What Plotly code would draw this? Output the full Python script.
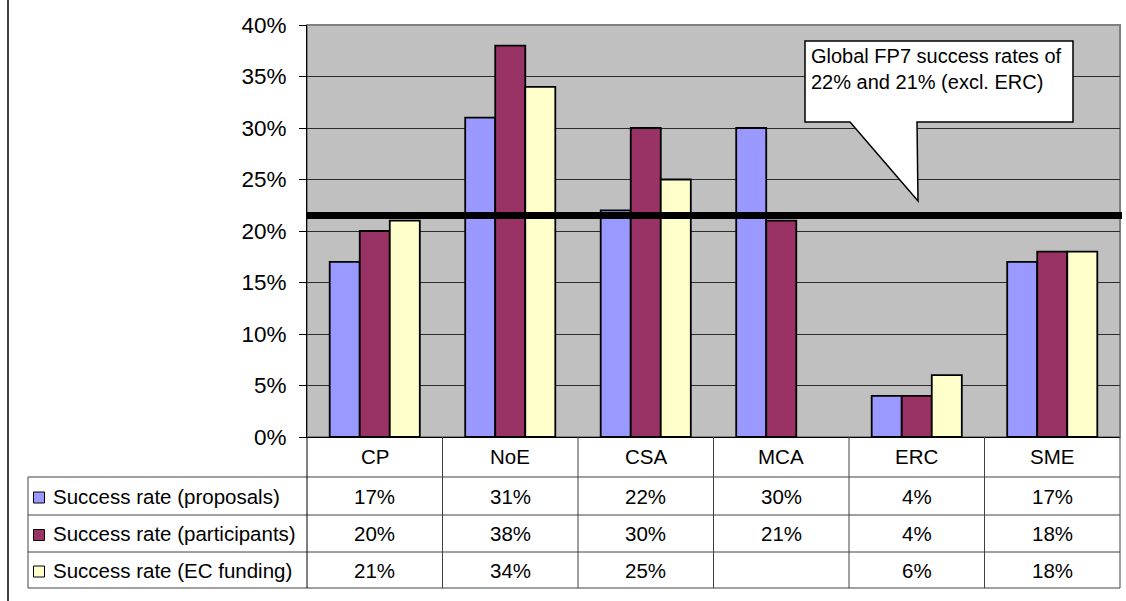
import plotly.graph_objects as go

W, H = 1126, 601

categories = ["CP", "NoE", "CSA", "MCA", "ERC", "SME"]
series_names = [
    "Success rate (proposals)",
    "Success rate (participants)",
    "Success rate (EC funding)",
]
proposals = [17, 31, 22, 30, 4, 17]
participants = [20, 38, 30, 21, 4, 18]
ec_funding = [21, 34, 25, None, 6, 18]
colors = ["#9999FF", "#993366", "#FFFFCC"]

global_rate = 21.5
callout_lines = ["Global FP7 success rates of", "22% and 21% (excl. ERC)"]

FONT = "Liberation Sans, Arial, sans-serif"


def px(x):
    return x / W


def py(y):
    return 1 - y / H


fig = go.Figure()

for name, vals, col in zip(series_names, [proposals, participants, ec_funding], colors):
    fig.add_trace(go.Bar(
        x=categories,
        y=vals,
        name=name,
        marker=dict(color=col, line=dict(color="black", width=1.8)),
        showlegend=False,
    ))

shapes = []

# frame line on the left
shapes.append(dict(type="line", xref="paper", yref="paper",
                   x0=px(8), x1=px(8), y0=0, y1=1,
                   line=dict(color="#404040", width=2)))

# plot area border top/right
shapes.append(dict(type="rect", xref="paper", yref="paper",
                   x0=px(307), x1=px(1120), y0=py(437), y1=py(25),
                   line=dict(color="#808080", width=2), layer="between"))

# global rate line
shapes.append(dict(type="line", xref="paper", yref="y",
                   x0=px(307), x1=px(1122), y0=global_rate, y1=global_rate,
                   line=dict(color="black", width=7), layer="above"))

# callout
pts = [(805, 41), (1073, 41), (1073, 122), (917, 122), (918, 201), (850, 122), (805, 122)]
path = "M " + " L ".join(f"{px(x):.5f},{py(y):.5f}" for x, y in pts) + " Z"
shapes.append(dict(type="path", xref="paper", yref="paper", path=path,
                   fillcolor="white", line=dict(color="black", width=1.5), layer="above"))

# data table grid
row_lines = [477, 515, 552, 588]
line_col = "#404040"
for i, yl in enumerate(row_lines):
    shapes.append(dict(type="line", xref="paper", yref="paper",
                       x0=px(28), x1=px(1120), y0=py(yl), y1=py(yl),
                       line=dict(color=line_col, width=1)))
shapes.append(dict(type="line", xref="paper", yref="paper",
                   x0=px(28), x1=px(28), y0=py(477), y1=py(588),
                   line=dict(color=line_col, width=1)))
shapes.append(dict(type="line", xref="paper", yref="paper",
                   x0=px(307), x1=px(307), y0=py(437), y1=py(588),
                   line=dict(color="black", width=1)))
shapes.append(dict(type="line", xref="paper", yref="paper",
                   x0=px(1120), x1=px(1120), y0=py(437), y1=py(588),
                   line=dict(color=line_col, width=1)))
for k in range(len(categories) - 1):
    shapes.append(dict(type="line", xref="x", yref="paper",
                       x0=k + 0.5, x1=k + 0.5, y0=py(437), y1=py(588),
                       line=dict(color=line_col, width=1)))

annotations = []
row_centers = [496, 533.5, 570]
for c in categories:
    annotations.append(dict(xref="x", yref="paper", x=c, y=py(456),
                            text=c, showarrow=False, yanchor="middle",
                            font=dict(size=20.5, color="black", family=FONT)))
for rc, name, vals, col in zip(row_centers, series_names,
                               [proposals, participants, ec_funding], colors):
    shapes.append(dict(type="rect", xref="paper", yref="paper",
                       x0=px(33.5), x1=px(44.5), y0=py(rc + 7), y1=py(rc - 4),
                       fillcolor=col, line=dict(color="black", width=1)))
    annotations.append(dict(xref="paper", yref="paper", x=px(51), y=py(rc),
                            text=name, showarrow=False, xanchor="left", yanchor="middle",
                            font=dict(size=20.5, color="black", family=FONT)))
    for c, v in zip(categories, vals):
        if v is None:
            continue
        annotations.append(dict(xref="x", yref="paper", x=c, y=py(rc),
                                text=f"{v}%", showarrow=False, yanchor="middle",
                                font=dict(size=20.5, color="black", family=FONT)))

annotations.append(dict(xref="paper", yref="paper", x=px(809), y=py(69),
                        text="<br>".join(callout_lines), showarrow=False,
                        xanchor="left", yanchor="middle", align="left",
                        font=dict(size=20, color="black", family=FONT)))

fig.update_layout(
    width=W, height=H,
    margin=dict(l=0, r=0, t=0, b=0),
    paper_bgcolor="white",
    plot_bgcolor="#C0C0C0",
    barmode="group",
    bargap=0.335,
    bargroupgap=0,
    font=dict(family=FONT, size=20, color="black"),
    shapes=shapes,
    annotations=annotations,
    xaxis=dict(domain=[px(307), px(1120)], range=[-0.5, 5.5],
               showticklabels=False, ticks="", showgrid=False,
               showline=True, linecolor="black", linewidth=1,
               automargin=False, fixedrange=True),
    yaxis=dict(domain=[py(437), py(25)], range=[0, 40], dtick=5,
               ticksuffix="%", ticks="outside", ticklen=7, tickcolor="black",
               showline=True, linecolor="black", linewidth=1,
               showgrid=True, gridcolor="#2b2b2b", gridwidth=1,
               zeroline=False, ticklabelstandoff=8,
               tickfont=dict(size=22.5, family=FONT, color="black"),
               automargin=False, fixedrange=True),
)

fig.write_html("out.html", config={"displayModeBar": False},
               post_script="document.body.style.margin='0';")
